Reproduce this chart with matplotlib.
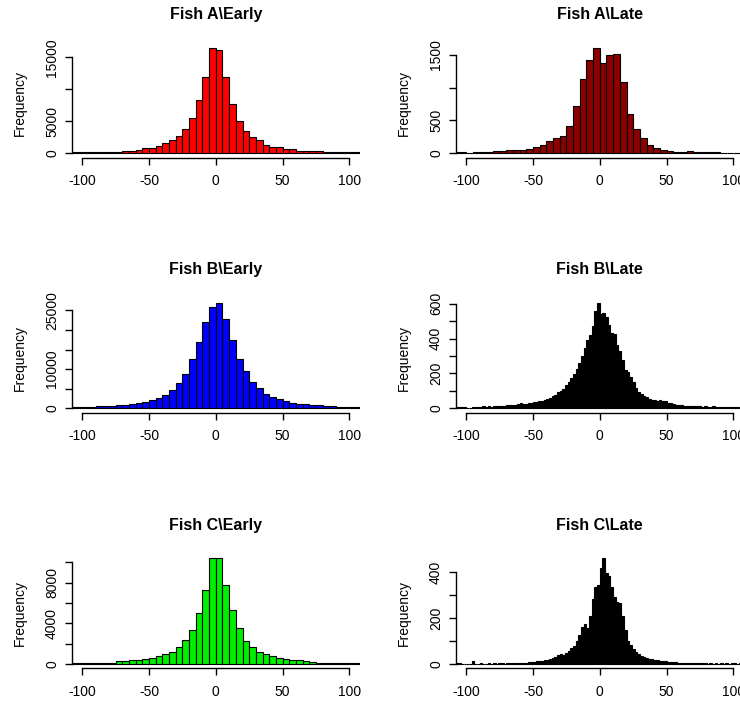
import numpy as np
import matplotlib
matplotlib.use("Agg")
import matplotlib.pyplot as plt

plt.rcParams["font.family"] = ["Liberation Sans", "DejaVu Sans"]

# histogram breaks: coarse panels use 5-degree bins, fine panels 2-degree bins
BREAKS_COARSE = np.arange(-110, 111, 5)
BREAKS_FINE = np.arange(-110, 111, 2)

fish_a_early = [
    150, 150, 160, 170, 180, 190, 200, 220,
    420, 430, 560, 780, 820, 1150, 1560, 2080, 2700, 3750, 5570, 8390, 11930, 16510,
    16090, 11930, 7660, 5050, 3490, 2500, 2080, 1350, 1040, 1040, 625, 625, 420, 420,
    420, 420, 200, 190, 180, 170, 160, 150,
]
fish_a_late = [
    15, 15, 3, 15, 15, 15, 30, 30, 50, 50, 50, 70, 100, 125, 180, 230, 270, 415,
    720, 1130, 1430, 1610, 1375, 1505, 1520, 1080, 605, 365, 230, 120, 80, 50, 40,
    12, 12, 30, 12, 12, 12, 12, 0, 0, 0, 0,
]
fish_b_early = [
    260, 260, 260, 260, 510, 510, 510, 770, 860, 1200, 1460, 1710, 2230, 2650, 3420,
    4710, 6420, 8820, 12670, 16870, 22000, 25940, 26970, 22860, 17380, 12670, 9420,
    6590, 5220, 3600, 3000, 2310, 1800, 1460, 1200, 1030, 860, 770, 600, 510, 260,
    260, 260, 260,
]
fish_c_early = [
    70, 70, 70, 70, 70, 70, 70, 260, 260, 360, 360, 490, 620, 760, 950, 1220, 1680,
    2400, 3360, 5000, 7300, 10390, 10390, 7760, 5300, 3590, 2240, 1680, 1220, 950,
    760, 620, 490, 430, 360, 260, 230, 70, 70, 70, 70, 70, 70, 70,
]
fish_b_late = [
    6, 8, 6, 10, 9, 4, 3, 5, 9, 10, 8, 11, 9, 12, 10, 13, 12, 14, 12, 15,
    16, 17, 19, 20, 22, 28, 24, 27, 30, 33, 36, 38, 41, 43, 48, 52, 58, 68, 78, 92,
    98, 112, 135, 150, 172, 195, 228, 262, 300, 345, 390, 420, 470, 560, 606,
    540, 545, 522, 480, 430, 425, 365, 330, 280, 222, 208, 180, 150, 118, 95,
    80, 70, 62, 52, 48, 45, 44, 45, 42, 40, 32, 28, 24, 20, 17, 16, 15, 14, 13, 12,
    12, 11, 13, 10, 11, 10, 9, 13, 8, 9, 7, 8, 6, 10, 5, 6, 5, 4, 4, 3,
]
fish_c_late = [
    2, 4, 3, 2, 1, 2, 0, 12, 2, 1, 3, 2, 1, 3, 2, 3, 2, 3, 3, 2,
    3, 3, 4, 3, 4, 4, 5, 4, 8, 7, 10, 11, 13, 14, 17, 19, 22, 26, 30, 38,
    45, 38, 50, 56, 68, 80, 100, 125, 160, 175, 155, 210, 285, 335, 345,
    420, 460, 395, 385, 335, 290, 272, 265, 208, 150, 100, 84, 65, 52, 42,
    35, 32, 26, 22, 20, 18, 16, 14, 13, 11, 10, 9, 8, 7, 6, 6, 5, 4, 5, 4,
    3, 4, 3, 4, 3, 2, 4, 2, 3, 2, 4, 2, 3, 2, 4, 3, 2, 4, 2, 3,
]

titles = ["Fish A\\Early", "Fish A\\Late", "Fish B\\Early", "Fish B\\Late",
          "Fish C\\Early", "Fish C\\Late"]
y_ticks = [
    ([0, 5000, 10000, 15000], ["0", "5000", "", "15000"]),
    ([0, 500, 1000, 1500], ["0", "500", "", "1500"]),
    ([0, 5000, 10000, 15000, 20000, 25000], ["0", "", "10000", "", "", "25000"]),
    ([0, 100, 200, 300, 400, 500, 600], ["0", "", "200", "", "400", "", "600"]),
    ([0, 2000, 4000, 6000, 8000, 10000], ["0", "", "4000", "", "8000", ""]),
    ([0, 100, 200, 300, 400], ["0", "", "200", "", "400"]),
]
panels = [
    (fish_a_early, BREAKS_COARSE, "#ff0000"),
    (fish_a_late, BREAKS_COARSE, "#8b0000"),
    (fish_b_early, BREAKS_COARSE, "#0000ff"),
    (fish_b_late, BREAKS_FINE, "#000000"),
    (fish_c_early, BREAKS_COARSE, "#00ee00"),
    (fish_c_late, BREAKS_FINE, "#000000"),
]

W, H = 740, 704
fig = plt.figure(figsize=(W / 100, H / 100), dpi=100)

# plot regions in pixels (left edge, bottom edge from top); right column runs past the canvas
col_left = [71.6, 455.6]
row_bottom = [157.5, 412.5, 668.2]
region_w, region_h = 288.4, 114.0

for i, (counts, breaks, color) in enumerate(panels):
    row, col = divmod(i, 2)
    ax = fig.add_axes([col_left[col] / W, 1 - row_bottom[row] / H,
                       region_w / W, region_h / H])
    counts = np.asarray(counts, dtype=float)
    ax.bar(breaks[:-1], counts, width=np.diff(breaks), align="edge",
           color=color, edgecolor="black", linewidth=0.8)

    peak = counts.max()
    ax.set_xlim(-108, 108)
    ax.set_ylim(-0.04 * peak, 1.04 * peak)

    for side in ("top", "right"):
        ax.spines[side].set_visible(False)
    ticks, labels = y_ticks[i]
    ax.spines["left"].set_bounds(0, ticks[-1])
    ax.spines["bottom"].set_bounds(-100, 100)
    for side in ("left", "bottom"):
        ax.spines[side].set_linewidth(1.0)

    ax.set_xticks([-100, -50, 0, 50, 100])
    ax.set_xticklabels(["-100", "-50", "0", "50", "100"])
    ax.set_yticks(ticks)
    ax.set_yticklabels(labels, rotation=90, va="center")
    ax.tick_params(axis="both", direction="out", length=5, width=1.0,
                   labelsize=10)
    ax.tick_params(axis="x", pad=7)
    ax.tick_params(axis="y", pad=4)

    ax.text(0.5, 1.252, titles[i], transform=ax.transAxes, ha="center",
            va="center", fontsize=11.5, fontweight="bold")
    ax.text(-0.181, 0.48, "Frequency", transform=ax.transAxes, ha="center",
            va="center", rotation=90, fontsize=10)

fig.savefig("out.png", dpi=100)
